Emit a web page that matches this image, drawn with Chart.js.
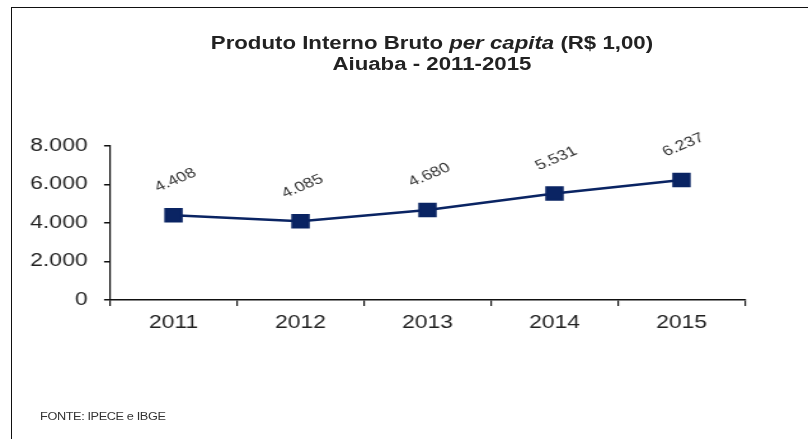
<!DOCTYPE html>
<html>
<head>
<meta charset="utf-8">
<script src="https://cdn.jsdelivr.net/npm/chart.js@4/dist/chart.umd.min.js"></script>
<style>
  html, body { margin: 0; padding: 0; background: #fff; }
  #page { position: relative; width: 808px; height: 439px; overflow: hidden; }
  #frame { position: absolute; left: 11px; top: 7px; right: -5px; bottom: -5px;
           border-left: 1.5px solid #111; border-top: 1.5px solid #111; }
  /* the source picture is stretched sideways, so the whole chart is drawn narrow and widened */
  #wrap { position: absolute; left: 0; top: 0; width: 636px; height: 439px;
          transform: scaleX(1.2704); transform-origin: 0 0; }
  #title { position: absolute; left: 0; width: 680px; top: 33px; text-align: center;
           font: bold 17.5px "Liberation Sans", Arial, sans-serif; color: #222; line-height: 21px; }
  #fonte { position: absolute; left: 31.5px; top: 411px;
           font: 10px "Liberation Sans", Arial, sans-serif; color: #333; letter-spacing: -0.3px; }
  canvas { position: absolute; left: 0; top: 0; }
</style>
</head>
<body>
<div id="page">
  <div id="frame"></div>
  <div id="wrap">
    <canvas id="c" width="636" height="439"></canvas>
    <div id="title">Produto Interno Bruto <i>per capita</i> (R$ 1,00)<br>Aiuaba - 2011-2015</div>
    <div id="fonte">FONTE: IPECE e IBGE</div>
  </div>
</div>
<script>
// PIB per capita, Aiuaba (R$ 1,00)
const years = ['2011', '2012', '2013', '2014', '2015'];
const pibPerCapita = [4408, 4085, 4680, 5531, 6237];

const fmt = (v) => Number(v).toLocaleString('pt-BR');
const NAVY = '#0a2463';
const FONT = '"Liberation Sans", Arial, sans-serif';

// rotated value labels above each point
const valueLabels = {
  id: 'valueLabels',
  afterDatasetsDraw(chart) {
    const ctx = chart.ctx;
    const meta = chart.getDatasetMeta(0);
    ctx.save();
    ctx.font = '14px ' + FONT;
    ctx.fillStyle = '#333';
    ctx.textAlign = 'center';
    ctx.textBaseline = 'middle';
    meta.data.forEach((pt, i) => {
      ctx.save();
      ctx.translate(pt.x + 1.5, pt.y - 35);
      ctx.rotate(-28 * Math.PI / 180);
      ctx.fillText(fmt(chart.data.datasets[0].data[i]), 0, 0);
      ctx.restore();
    });
    ctx.restore();
  },
};

new Chart(document.getElementById('c'), {
  type: 'line',
  data: {
    labels: years,
    datasets: [{
      data: pibPerCapita,
      borderColor: NAVY,
      backgroundColor: NAVY,
      borderWidth: 2.5,
      pointStyle: 'rect',
      pointRadius: 8.5,
      pointHoverRadius: 8.5,
      tension: 0,
    }],
  },
  options: {
    responsive: false,
    animation: false,
    events: [],
    layout: { padding: { left: 6, right: 49.6, top: 146, bottom: 99 } },
    plugins: { legend: { display: false }, title: { display: false }, tooltip: { enabled: false } },
    scales: {
      x: {
        offset: true,
        afterFit: (s) => { s.height = 40; },
        grid: { offset: true, drawOnChartArea: false, tickLength: 6, color: '#111', lineWidth: 1.2 },
        border: { color: '#111', width: 1.5 },
        ticks: { color: '#222', padding: 6, font: { family: FONT, size: 18 } },
      },
      y: {
        min: 0,
        max: 8000,
        afterFit: (s) => { s.width = 80.6; },
        grid: { drawOnChartArea: false, tickLength: 4.7, color: '#111', lineWidth: 1.5 },
        border: { color: '#111', width: 1.2 },
        ticks: {
          stepSize: 2000,
          color: '#222',
          padding: 13,
          font: { family: FONT, size: 18 },
          callback: (v) => fmt(v),
        },
      },
    },
  },
  plugins: [valueLabels],
});
</script>
</body>
</html>
